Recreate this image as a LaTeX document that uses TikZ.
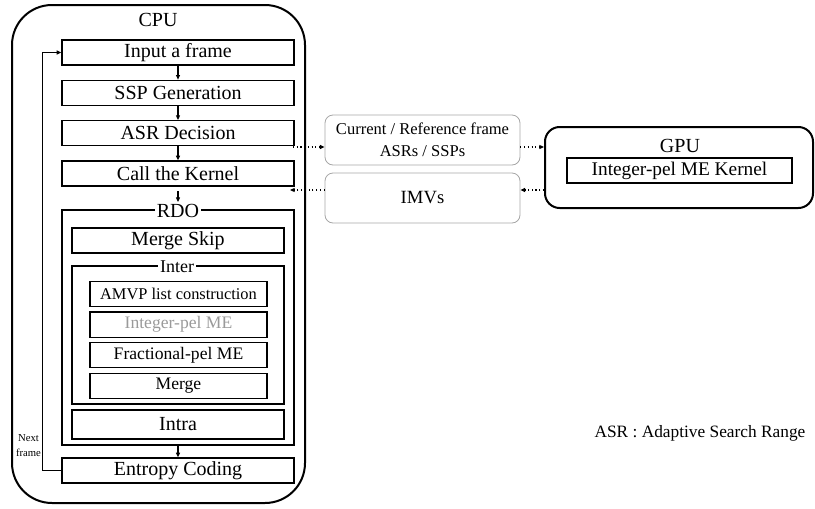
\documentclass[tikz,border=0pt]{standalone}
\usepackage{fontspec}
\setmainfont{Liberation Serif}
\usetikzlibrary{arrows.meta,positioning}
\definecolor{bgray}{HTML}{A6A6A6}
\definecolor{tgray}{HTML}{9A9A9A}

\begin{document}
\begin{tikzpicture}[
    x=0.75pt, y=-0.75pt,
    node distance = 10.5pt and 10pt,
    box/.style = {draw, line width=1pt, minimum width=174pt, minimum height=18.75pt,
                  inner sep=0pt, font=\fontsize{15}{18}\selectfont},
    subbox/.style = {box, minimum width=159pt},
    mebox/.style = {box, minimum width=132.75pt, minimum height=19pt,
                    font=\fontsize{13.2}{16}\selectfont},
    grp/.style = {draw, line width=1pt, inner sep=0pt},
    ttl/.style = {fill=white, inner sep=1.5pt, font=\fontsize{15}{18}\selectfont},
    msg/.style = {draw=bgray, line width=0.6pt, rounded corners=6pt, minimum width=146.25pt,
                  minimum height=37.5pt, align=center, font=\fontsize{12.4}{16.5}\selectfont},
    unit/.style = {draw, line width=1.5pt},
    arr/.style = {-{Triangle[length=3.5pt, width=3pt]}, line width=0.8pt},
    darr/.style = {arr, dotted},
  ]
  \useasboundingbox (0,0) rectangle (815,508);

  % CPU side
  \node[unit, rounded corners=30pt, minimum width=219.75pt, minimum height=373.5pt] (cpu) at (158.5,254) {};
  \node[font=\fontsize{15}{18}\selectfont] (cputxt) at (158,20) {CPU};

  \node[box] (in) at (178,52.5) {Input a frame};
  \node[box, below=of in] (ssp) {SSP Generation};
  \node[box, below=of ssp] (asr) {ASR Decision};
  \node[box, below=of asr] (call) {Call the Kernel};

  \node[grp, minimum width=174pt, minimum height=176.25pt] (rdo) at (178,327.5) {};
  \node[ttl] (rdotxt) at (178,211) {RDO};
  \node[subbox] (skip) at (178,240.5) {Merge Skip};
  \node[grp, minimum width=159pt, minimum height=103.5pt] (inter) at (178,335) {};
  \node[ttl, font=\fontsize{13.5}{16}\selectfont] (intertxt) at (177,267) {Inter};
  \node[mebox, font=\fontsize{12.3}{16}\selectfont] (amvp) at (178.5,294) {AMVP list construction};
  \node[mebox, text=tgray] (ime) at (178.5,324.5) {Integer-pel ME};
  \node[mebox] (fme) at (178.5,355) {Fractional-pel ME};
  \node[mebox] (mrg) at (178.5,386) {Merge};
  \node[subbox, minimum height=21.75pt] (intra) at (178,424.5) {Intra};
  \node[box] (ent) at (178,470.5) {Entropy Coding};

  \node[align=center, font=\fontsize{8}{11.25}\selectfont, inner sep=0pt] (next) at (28.5,446) {Next\\frame};

  \draw[arr] (in) -- (ssp);
  \draw[arr] (ssp) -- (asr);
  \draw[arr] (asr) -- (call);
  \draw[arr, shorten <=3.5pt] (call) -- (rdotxt);
  \draw[arr] (rdo) -- (ent);
  \draw[arr] (ent.west) -- ++(-19,0) |- (in.west);

  % transfer
  \node[msg] (cur) at (422.5,140) {Current / Reference frame\\ASRs / SSPs};
  \node[msg, font=\fontsize{14}{16}\selectfont] (imv) at (422.5,198) {IMVs};

  % GPU side
  \node[unit, rounded corners=11pt, minimum width=201pt, minimum height=60.75pt] (gpu) at (679,167.5) {};
  \node[font=\fontsize{15}{18}\selectfont] (gputxt) at (680,146) {GPU};
  \node[box, minimum width=168.75pt, font=\fontsize{14.5}{18}\selectfont] (kern) at (679.5,170.5) {Integer-pel ME Kernel};

  \coordinate (kin) at (293,147);
  \coordinate (kout) at (290,190);
  \draw[darr] (kin) -- (kin -| cur.west);
  \draw[darr] (cur.east |- kin) -- (gpu.west |- kin);
  \draw[darr] (gpu.west |- kout) -- (imv.east |- kout);
  \draw[darr] (imv.west |- kout) -- (kout);

  \node[font=\fontsize{13}{16}\selectfont] (note) at (700,433) {ASR : Adaptive Search Range};
\end{tikzpicture}
\end{document}
